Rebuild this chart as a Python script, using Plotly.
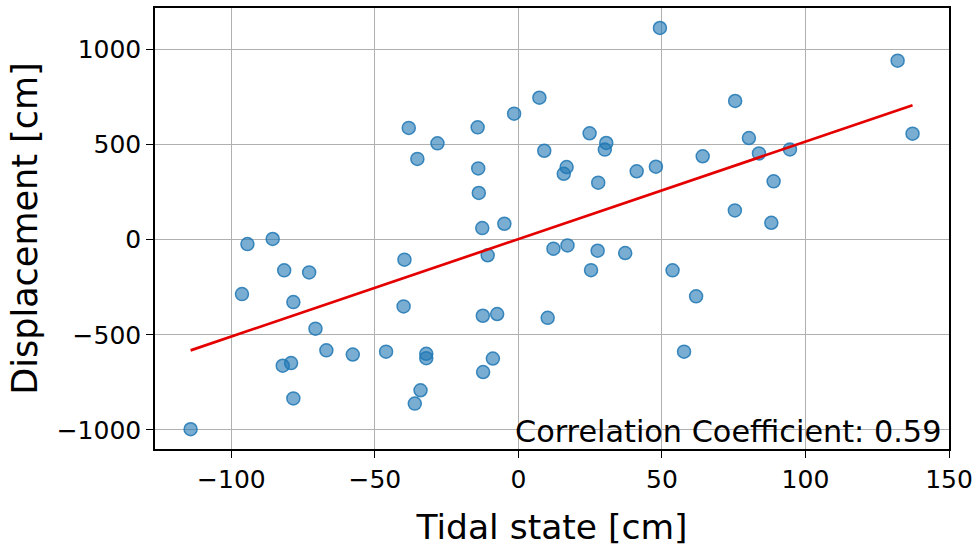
import numpy as np
import plotly.graph_objects as go

tidal_state = [
    -114.2, -96.3, -94.4, -85.6, -82.1, -81.6, -79.2, -78.4, -78.4, -72.9,
    -70.7, -66.9, -57.7, -46.1, -40.0, -39.7, -38.2, -36.1, -35.2, -34.1,
    -32.1, -32.1, -28.2, -14.2, -14.0, -13.8, -12.6, -12.4, -12.3, -10.7,
    -8.9, -7.4, -4.9, -1.5, 7.3, 9.0, 10.2, 12.2, 15.8, 16.8,
    17.1, 24.8, 25.3, 27.6, 27.8, 30.1, 30.6, 37.2, 41.2, 47.9,
    49.3, 53.7, 57.7, 61.9, 64.2, 75.4, 75.5, 80.3, 83.8, 88.1,
    88.9, 94.6, 132.1, 137.3,
]
displacement = [
    -997, -286, -23, 4, -663, -161, -649, -328, -835, -172,
    -468, -582, -604, -589, -351, -105, 588, -862, 425, -792,
    -600, -623, 507, 591, 375, 246, 61, -400, -696, -82,
    -625, -391, 84, 663, 747, 468, -411, -47, 347, 382,
    -30, 560, -160, -58, 300, 474, 509, -70, 360, 384,
    1114, -161, -589, -298, 439, 154, 730, 535, 454, 89,
    307, 475, 942, 558,
]
x_ticks = [-100, -50, 0, 50, 100, 150]
y_ticks = [-1000, -500, 0, 500, 1000]
annotation_text = "Correlation Coefficient: 0.59"

xa = np.array(tidal_state)
ya = np.array(displacement)
slope, intercept = np.polyfit(xa, ya, 1)
fit_x = np.array([xa.min(), xa.max()])
fit_y = slope * fit_x + intercept

FONT = "DejaVu Sans"

fig = go.Figure()
fig.add_trace(go.Scatter(
    x=tidal_state, y=displacement, mode="markers",
    marker=dict(size=13, color="rgba(31,119,180,0.6)",
                line=dict(color="rgba(31,119,180,0.85)", width=1.5)),
    showlegend=False,
))
fig.add_trace(go.Scatter(
    x=fit_x, y=fit_y, mode="lines",
    line=dict(color="#e50000", width=2.7),
    showlegend=False,
))

axis_common = dict(
    showgrid=True, gridcolor="#b0b0b0", gridwidth=1.3,
    showline=True, linecolor="black", linewidth=1.5, mirror=True,
    ticks="outside", ticklen=7, tickwidth=1.3, tickcolor="black",
    zeroline=False,
    tickfont=dict(family=FONT, size=25, color="black"),
)

fig.update_xaxes(
    range=[-126.6, 150.0], tickvals=x_ticks,
    ticktext=[str(v).replace("-", "\u2212") for v in x_ticks],
    title=dict(text="Tidal state [cm]", font=dict(family=FONT, size=34.5, color="black"), standoff=22),
    **axis_common,
)
fig.update_yaxes(
    range=[-1101, 1219], tickvals=y_ticks,
    ticktext=[str(v).replace("-", "\u2212") for v in y_ticks],
    title=dict(text="Displacement [cm]", font=dict(family=FONT, size=35, color="black"), standoff=8),
    **axis_common,
)

fig.add_annotation(
    text=annotation_text, xref="paper", yref="paper",
    x=0.992, y=-0.004, xanchor="right", yanchor="bottom", showarrow=False,
    font=dict(family=FONT, size=30.3, color="black"),
)

fig.update_layout(
    width=980, height=551,
    margin=dict(l=155, r=31, t=8, b=102, autoexpand=False),
    paper_bgcolor="white", plot_bgcolor="white",
    font=dict(family=FONT),
)

fig.write_html("out.html")
